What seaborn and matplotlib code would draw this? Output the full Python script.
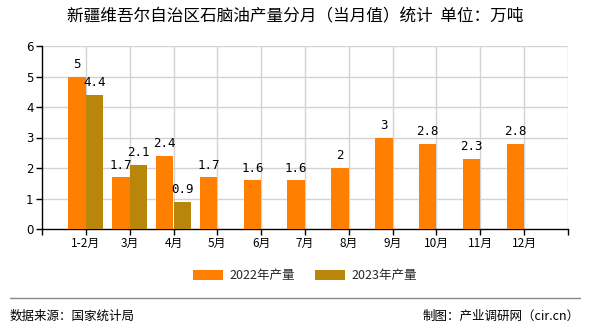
import matplotlib
matplotlib.use("Agg")
import matplotlib.pyplot as plt
import seaborn as sns
import pandas as pd
import numpy as np

months = ["1-2月", "3月", "4月", "5月", "6月", "7月", "8月", "9月", "10月", "11月", "12月"]
output_2022 = [5, 1.7, 2.4, 1.7, 1.6, 1.6, 2, 3, 2.8, 2.3, 2.8]
output_2023 = [4.4, 2.1, 0.9, np.nan, np.nan, np.nan, np.nan, np.nan, np.nan, np.nan, np.nan]
series_names = ["2022年产量", "2023年产量"]
colors = ["#FF8000", "#B8860B"]

sns.set_theme(style="white")
plt.rcParams["font.family"] = ["Noto Sans CJK SC", "DejaVu Sans"]

df = pd.DataFrame({
    "month": months * 2,
    "value": output_2022 + output_2023,
    "series": [series_names[0]] * len(months) + [series_names[1]] * len(months),
})

fig = plt.figure(figsize=(5.9, 3.3), dpi=100)
ax = fig.add_axes([42 / 590, 1 - 229 / 330, (568 - 42) / 590, (229 - 46) / 330])

sns.barplot(data=df, x="month", y="value", hue="series", order=months,
            hue_order=series_names, palette=colors, width=0.8, saturation=1,
            ax=ax, legend=True, zorder=3, linewidth=0, edgecolor="none")

for container in ax.containers:
    labels = [("" if np.isnan(v) else f"{v:g}") for v in container.datavalues]
    ax.bar_label(container, labels=labels, padding=4, fontsize=9,
                 family="DejaVu Sans Mono", color="#000000")

ax.set_xlim(-1, 11)
ax.set_ylim(0, 6)
ax.set_yticks(range(0, 7))
ax.set_yticklabels([str(i) for i in range(0, 7)], fontsize=8.5, family="DejaVu Sans")
ax.set_xticks(range(-1, 12))
ax.set_xticklabels([""] + months + [""], fontsize=8.5)
ax.set_xlabel("")
ax.set_ylabel("")

for x in range(0, 12):
    ax.axvline(x, color="#D3D3D3", lw=1, zorder=0)
for y in range(1, 7):
    ax.axhline(y, color="#D3D3D3", lw=1, zorder=0)

for side in ["top", "right"]:
    ax.spines[side].set_visible(False)
for side in ["left", "bottom"]:
    ax.spines[side].set_color("#000000")
    ax.spines[side].set_linewidth(1)
ax.tick_params(axis="both", direction="out", length=4, width=1, color="#000000",
               left=True, bottom=True, pad=2, labelcolor="#000000")

leg = ax.legend(loc="center", bbox_to_anchor=(0.5, -0.255), ncol=2, frameon=False,
                fontsize=9, handlelength=2.4, handleheight=0.9, columnspacing=1.6,
                handletextpad=0.5)
for patch in leg.get_patches():
    patch.set_edgecolor("none")

fig.text(295 / 590, 1 - 17 / 330, "新疆维吾尔自治区石脑油产量分月（当月值）统计  单位：万吨",
         ha="center", va="center", fontsize=12, color="#000000")

fig.add_artist(plt.Line2D([10 / 590, 580 / 590], [1 - 298 / 330, 1 - 298 / 330],
                          color="#888888", lw=1))
fig.text(10 / 590, 1 - 316 / 330, "数据来源：国家统计局", ha="left", va="center",
         fontsize=9, color="#000000")
fig.text(580 / 590, 1 - 316 / 330, "制图：产业调研网（cir.cn）", ha="right", va="center",
         fontsize=9, color="#000000")

fig.savefig("out.png", dpi=100)
